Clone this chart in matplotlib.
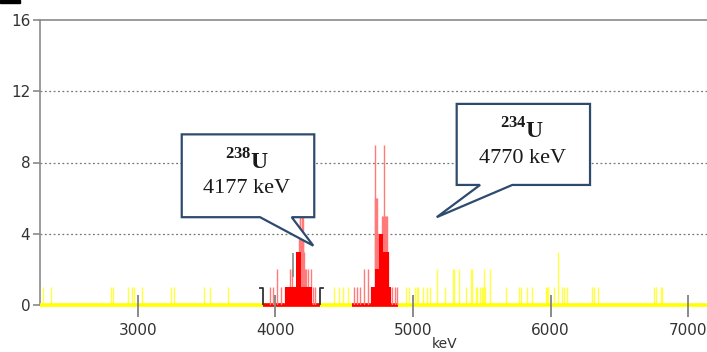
import matplotlib
matplotlib.use("Agg")
import matplotlib.pyplot as plt
from matplotlib.patches import Polygon, Rectangle
import numpy as np

plt.rcParams['font.family'] = ['DejaVu Sans']
plt.rcParams['mathtext.fontset'] = 'custom'
plt.rcParams['mathtext.rm'] = 'Liberation Serif'
plt.rcParams['mathtext.bf'] = 'Liberation Serif:bold'

# background counts (yellow), energy in keV
bg_keV = [2310, 2368, 2806, 2823, 2927, 2959, 2975, 3029, 3240, 3264, 3484, 3525, 3654,
          4429, 4465, 4494, 4526,
          4948, 4972, 5015, 5030, 5037, 5075, 5104, 5124, 5177, 5233, 5289, 5295, 5337,
          5386, 5422, 5432, 5456, 5466, 5490, 5500, 5509, 5517, 5524, 5558, 5674,
          5771, 5783, 5831, 5868, 5965, 5977, 5984, 6025, 6052, 6086, 6100, 6118,
          6304, 6316, 6347, 6752, 6767, 6801, 6812]
bg_counts = [1, 1, 1, 1, 1, 1, 1, 1, 1, 1, 1, 1, 1,
             1, 1, 1, 1,
             1, 1, 1, 1, 1, 1, 1, 1, 2, 1, 2, 2, 2,
             1, 2, 2, 1, 1, 1, 1, 1, 2, 1, 2, 1,
             1, 1, 1, 1, 1, 1, 1, 1, 3, 1, 1, 1,
             1, 1, 1, 1, 1, 1, 1]

# 238U peak channels
u238_keV = [3959, 3983, 4014, 4044, 4073, 4087, 4109, 4123, 4160, 4166, 4172, 4178,
            4183, 4190, 4195, 4199, 4204, 4209, 4219, 4226, 4234, 4248, 4259, 4274, 4288]
u238_counts = [1, 1, 2, 1, 1, 1, 2, 2, 2, 3, 4, 5, 5, 4, 5, 5, 4, 3, 2, 2, 2, 1, 2, 1, 1]
u238_core_edges = [4071, 4151, 4187, 4267]
u238_core_counts = [1, 3, 1]

# 234U peak channels
u234_keV = [4574, 4592, 4616, 4647, 4676, 4695, 4710, 4721, 4728, 4732, 4737, 4746,
            4761, 4776, 4782, 4790, 4797, 4803, 4808, 4814, 4819, 4834, 4848, 4870, 4887]
u234_counts = [1, 1, 1, 2, 2, 1, 1, 6, 9, 6, 6, 4, 4, 5, 5, 9, 5, 5, 5, 3, 3, 1, 1, 1, 1]
u234_core_edges = [4695, 4724, 4753, 4782, 4826, 4841]
u234_core_counts = [1, 2, 4, 3, 1]

rois = [(3911, 4324), (4557, 4891)]
cursor_keV, cursor_lo, cursor_hi = 4129, 1.57, 2.92
x_ticks = [3000, 4000, 5000, 6000, 7000]
y_ticks = [0, 4, 8, 12, 16]

fig = plt.figure(figsize=(7.07, 3.52), dpi=100)
ax = fig.add_axes([40 / 707, 1 - 305 / 352, 667 / 707, 285 / 352])
ax.set_xlim(2290, 7137)
ax.set_ylim(0, 16)

gray = '#8a8a8a'
for s in ['right', 'bottom']:
    ax.spines[s].set_visible(False)
for s in ['left', 'top']:
    ax.spines[s].set_color(gray)
    ax.spines[s].set_linewidth(1.2)

for y in [4, 8, 12]:
    ax.axhline(y, color='#777777', lw=0.9, ls=(0, (1.5, 2)), zorder=1)

# background lines and baseline
ax.vlines(bg_keV, 0, bg_counts, color='#ffff40', lw=1.0, zorder=2)
ax.plot([2290, 7137], [0, 0], color='#ffff00', lw=2.6, zorder=3, clip_on=False,
        solid_capstyle='butt')
for lo, hi in rois:
    ax.plot([lo, hi], [0, 0], color='#ff0000', lw=2.6, zorder=3, clip_on=False,
            solid_capstyle='butt')

# peaks
ax.vlines(u238_keV, 0, u238_counts, color='#ff7a7a', lw=1.0, zorder=4)
ax.vlines(u234_keV, 0, u234_counts, color='#ff7a7a', lw=1.0, zorder=4)
ax.stairs(u238_core_counts, u238_core_edges, fill=True, color='#ff0000', zorder=5)
ax.stairs(u234_core_counts, u234_core_edges, fill=True, color='#ff0000', zorder=5)

# ROI brackets
lo, hi = rois[0]
ax.plot([lo - 22, lo, lo], [0.95, 0.95, 0], color='#333333', lw=1.3, zorder=6)
ax.plot([hi + 22, hi, hi], [0.95, 0.95, 0], color='#333333', lw=1.3, zorder=6)
ax.vlines(cursor_keV, cursor_lo, cursor_hi, color='#888888', lw=1.2, zorder=6)

ax.set_xticks(x_ticks)
ax.set_yticks(y_ticks)
ax.tick_params(axis='x', length=0, labelsize=11, labelcolor='#333333', pad=13)
ax.tick_params(axis='y', direction='out', length=5, width=1.2, color=gray,
               labelsize=11, labelcolor='#333333', pad=2)
# crossing x tick marks
ax.vlines(x_ticks, -0.042, 0.035, transform=ax.get_xaxis_transform(),
          color=gray, lw=1.4, zorder=7, clip_on=False)
ax.set_xlabel('keV', fontsize=10, color='#333333')
ax.xaxis.set_label_coords(0.606, -0.112)


def callout(x0, x1, y0, y1, b0, b1, tx, ty):
    verts = [(x0, y0), (b0, y0), (tx, ty), (b1, y0), (x1, y0), (x1, y1), (x0, y1)]
    p = Polygon(verts, closed=True, facecolor='white', edgecolor='#2e4a6e',
                lw=1.6, zorder=10, clip_on=False, joinstyle='miter')
    ax.add_patch(p)


callout(3320, 4283, 4.93, 9.58, 3889, 4119, 4276, 3.33)
ax.text(3794, 8.05, r'$^{\mathbf{238}}\mathbf{U}$', fontsize=17, ha='center',
        va='center', zorder=11, color='#1a1a1a')
ax.text(3794, 6.55, '4177 keV', fontsize=16, ha='center', va='center',
        family='Liberation Serif', zorder=11, color='#1a1a1a')

callout(5318, 6287, 6.74, 11.29, 5488, 5722, 5173, 4.93)
ax.text(5796, 9.8, r'$^{\mathbf{234}}\mathbf{U}$', fontsize=17, ha='center',
        va='center', zorder=11, color='#1a1a1a')
ax.text(5796, 8.25, '4770 keV', fontsize=16, ha='center', va='center',
        family='Liberation Serif', zorder=11, color='#1a1a1a')

fig.add_artist(Rectangle((0, 1 - 3 / 352), 20 / 707, 3 / 352,
                         transform=fig.transFigure, color='black'))

fig.savefig('out.png', dpi=100)
